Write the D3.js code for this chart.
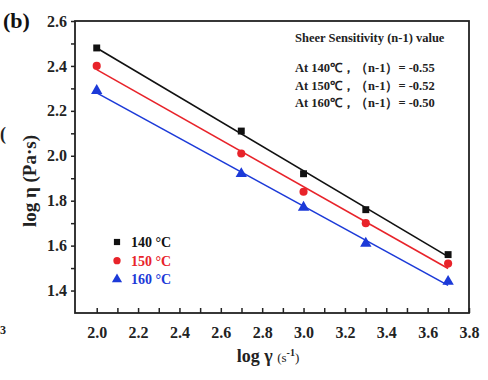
<!DOCTYPE html>
<html>
<head>
<meta charset="utf-8">
<script src="https://cdn.jsdelivr.net/npm/d3@7"></script>
<style>
  body { margin: 0; background: #fff; }
  svg, svg text { font-family: "Liberation Serif", "Times New Roman", serif; font-weight: bold; }
</style>
</head>
<body>
<svg id="chart" width="488" height="380"></svg>
<script>
// shear rates, log scale
var logRate = [2.0, 2.699, 3.0, 3.301, 3.699];
var eta140 = [2.48, 2.11, 1.92, 1.76, 1.56];
var eta150 = [2.40, 2.01, 1.84, 1.70, 1.52];
var eta160 = [2.29, 1.92, 1.77, 1.61, 1.44];
var seriesNames = ['140 °C', '150 °C', '160 °C'];
var noteTitle = 'Sheer Sensitivity (n-1) value';
var noteLines = ['At 140℃，（n-1）= -0.55', 'At 150℃，（n-1）= -0.52', 'At 160℃，（n-1）= -0.50'];
var xTicks = [2.0, 2.2, 2.4, 2.6, 2.8, 3.0, 3.2, 3.4, 3.6, 3.8];
var yTicks = [1.4, 1.6, 1.8, 2.0, 2.2, 2.4, 2.6];

var serif = '"Liberation Serif", "Times New Roman", serif';
var colors = ['#111111', '#e8232a', '#1c3ad8'];
var shapes = [d3.symbolSquare, d3.symbolCircle, d3.symbolTriangle];
var sizes = [48, 52, 56];

var svg = d3.select('#chart'),
    margin = {top: 21, right: 19, bottom: 67, left: 75},
    width = +svg.attr('width') - margin.left - margin.right,
    height = +svg.attr('height') - margin.top - margin.bottom,
    g = svg.append('g').attr('transform', 'translate(' + margin.left + ',' + margin.top + ')');

var x = d3.scaleLinear().domain([1.895, 3.8]).range([0, width]);
var y = d3.scaleLinear().domain([1.3, 2.6]).range([height, 0]);

// x axis, ticks pointing in
var xAxis = g.append('g')
  .attr('transform', `translate(0, ${height})`)
  .call(d3.axisBottom(x).tickValues(d3.range(2.0, 3.81, 0.1)).tickSize(-5).tickPadding(14)
    .tickFormat(d => xTicks.some(t => Math.abs(t - d) < 1e-6) ? d3.format('.1f')(d) : ''));
xAxis.select('.domain').remove();
xAxis.selectAll('text')
  .style('font-family', serif).style('font-weight', 'bold').style('font-size', '16px')
  .attr('fill', '#222');
xAxis.selectAll('line').attr('stroke', '#222').attr('stroke-width', 1.5);

// y axis, ticks pointing out
var yAxis = g.append('g')
  .call(d3.axisLeft(y).tickValues(d3.range(1.4, 2.61, 0.1)).tickSize(4).tickPadding(4)
    .tickFormat(d => yTicks.some(t => Math.abs(t - d) < 1e-6) ? d3.format('.1f')(d) : ''));
yAxis.select('.domain').remove();
yAxis.selectAll('text')
  .style('font-family', serif).style('font-weight', 'bold').style('font-size', '16px')
  .attr('fill', '#222');
yAxis.selectAll('line').attr('stroke', '#222').attr('stroke-width', 1.5);

g.append('rect')
  .attr('width', width).attr('height', height)
  .attr('fill', 'none').attr('stroke', '#222').attr('stroke-width', 1.8);

// linear fits
function fit(xs, ys) {
  var mx = d3.mean(xs), my = d3.mean(ys);
  var b = d3.sum(xs, (v, i) => (v - mx) * (ys[i] - my)) / d3.sum(xs, v => (v - mx) * (v - mx));
  return v => my + b * (v - mx);
}

var allSeries = [eta140, eta150, eta160];
var ends = [logRate[0], logRate[logRate.length - 1]];

allSeries.forEach((s, i) => {
  var f = fit(logRate, s);
  g.append('path')
    .attr('d', d3.line().x(d => x(d)).y(d => y(f(d)))(ends))
    .attr('stroke', colors[i]).attr('stroke-width', 1.6).attr('fill', 'none');

  g.selectAll('.pt' + i)
    .data(s)
    .enter()
    .append('path')
    .attr('transform', (d, j) => `translate(${x(logRate[j])}, ${y(d)})`)
    .attr('d', d3.symbol().type(shapes[i]).size(sizes[i]))
    .attr('fill', colors[i]);
});

// legend
var leg = g.append('g').attr('transform', 'translate(42, 221)');
seriesNames.forEach((name, i) => {
  leg.append('path')
    .attr('transform', `translate(0, ${i * 18.7})`)
    .attr('d', d3.symbol().type(shapes[i]).size(sizes[i] * 0.8))
    .attr('fill', colors[i]);
  leg.append('text')
    .attr('x', 14).attr('y', i * 18.7 + 5)
    .attr('fill', colors[i])
    .style('font-size', '14px')
    .text(name);
});

// note
var note = g.append('g').attr('transform', 'translate(220, 21)');
note.append('text').style('font-size', '12.5px').attr('fill', '#222').text(noteTitle);
noteLines.forEach((t, i) => {
  note.append('text')
    .attr('y', 30 + i * 17.5)
    .style('font-size', '12.5px')
    .attr('fill', '#222')
    .text(t);
});

// axis titles
svg.append('text')
  .attr('transform', 'translate(36, 181) rotate(-90)')
  .attr('text-anchor', 'middle')
  .style('font-size', '19px')
  .attr('fill', '#222')
  .text('log η (Pa·s)');

var xt = svg.append('text')
  .attr('x', 268).attr('y', 362)
  .attr('text-anchor', 'middle')
  .attr('fill', '#222')
  .style('font-size', '18px');
xt.append('tspan').text('log γ ');
xt.append('tspan').style('font-size', '13px').style('font-weight', 'normal').text('(s');
xt.append('tspan').style('font-size', '10px').attr('dy', -6).text('-1');
xt.append('tspan').style('font-size', '13px').style('font-weight', 'normal').attr('dy', 6).text(')');

// panel label
svg.append('text')
  .attr('x', 3).attr('y', 28)
  .style('font-size', '22px')
  .attr('fill', '#111')
  .text('(b)');

// small bits at the left edge
svg.append('text').attr('x', 0).attr('y', 334).style('font-size', '12px').attr('fill', '#222').text('3');
svg.append('text').attr('x', 0).attr('y', 140).style('font-size', '18px').attr('fill', '#222').text('(');
</script>
</body>
</html>
